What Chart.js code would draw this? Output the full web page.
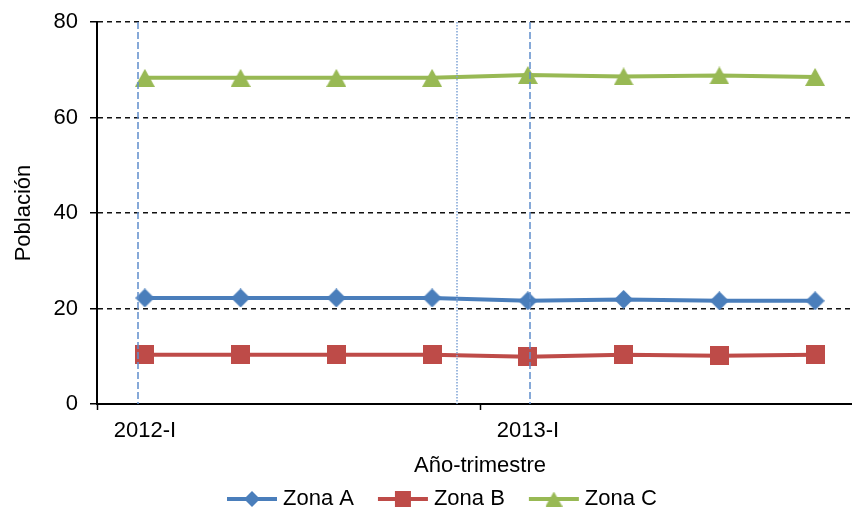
<!DOCTYPE html>
<html><head><meta charset="utf-8">
<script src="https://cdn.jsdelivr.net/npm/chart.js@4.4.1/dist/chart.umd.min.js"></script>
<style>html,body{margin:0;padding:0;overflow:hidden;background:#fff;width:852px;height:508px}canvas{display:block}</style>
</head><body>
<canvas id="c" width="884" height="520"></canvas>
<script>
// ---- data ----
const categories = ['2012-I','2012-II','2012-III','2012-IV','2013-I','2013-II','2013-III','2013-IV'];
const tickLabels = ['2012-I','','','','2013-I','','',''];
const zonaA = [22.2,22.2,22.2,22.2,21.6,21.9,21.6,21.6];
const zonaB = [10.3,10.3,10.3,10.3,9.9,10.3,10.1,10.3];
const zonaC = [68.3,68.3,68.3,68.3,68.9,68.6,68.8,68.5];
const seriesNames = ['Zona A','Zona B','Zona C'];
const yMin = 0, yMax = 80, yStep = 20;
const xTitle = 'Año-trimestre';
const yTitle = 'Población';
// vertical reference lines, in category-axis units
const dashedRefPositions = [-0.075, 4.02];
const dottedRefPositions = [3.26];

// ---- styles ----
const colors = ['#4A7EBB','#BE4B48','#98B954'];
const shapes = ['diamond','square','triangle'];
const FONT = 'Liberation Sans, Arial, sans-serif';

function makeMarker(shape, color, w, h) {
  const c = document.createElement('canvas');
  c.width = w; c.height = h;
  const g = c.getContext('2d');
  g.fillStyle = color;
  g.beginPath();
  if (shape === 'diamond') { g.moveTo(w/2,0); g.lineTo(w,h/2); g.lineTo(w/2,h); g.lineTo(0,h/2); }
  else if (shape === 'square') { g.rect(0,0,w,h); }
  else { g.moveTo(w/2,0); g.lineTo(w,h); g.lineTo(0,h); }
  g.closePath(); g.fill();
  return c;
}
function makeLegendSample(shape, color, mw, mh) {
  const c = document.createElement('canvas');
  c.width = 78; c.height = 22;
  const g = c.getContext('2d');
  g.strokeStyle = color; g.lineWidth = 4;
  g.beginPath(); g.moveTo(27,11); g.lineTo(77,11); g.stroke();
  g.drawImage(makeMarker(shape,color,mw,mh), 52 - mw/2, 11 - mh/2);
  return c;
}
const markerSizes = [[19,19],[19,19],[20,18]];
const legendSizes = [[16,16],[16,16],[17,15]];
const markers = shapes.map((s,i)=>makeMarker(s, colors[i], markerSizes[i][0], markerSizes[i][1]));
const legendSamples = shapes.map((s,i)=>makeLegendSample(s, colors[i], legendSizes[i][0], legendSizes[i][1]));

const refLinesPlugin = {
  id: 'refLines',
  afterDatasetsDraw(chart) {
    const ctx = chart.ctx, xs = chart.scales.x, a = chart.chartArea;
    ctx.save();
    ctx.lineWidth = 1.5;
    ctx.strokeStyle = '#5F8DCB';
    ctx.setLineDash([7,3]);
    dashedRefPositions.forEach(v => {
      const px = Math.round(xs.getPixelForValue(v));
      ctx.beginPath(); ctx.moveTo(px, a.top); ctx.lineTo(px, a.bottom); ctx.stroke();
    });
    ctx.strokeStyle = '#7EA3D5';
    ctx.setLineDash([1.5,1.5]);
    dottedRefPositions.forEach(v => {
      const px = Math.round(xs.getPixelForValue(v));
      ctx.beginPath(); ctx.moveTo(px, a.top); ctx.lineTo(px, a.bottom); ctx.stroke();
    });
    ctx.restore();
  }
};

const seriesData = [zonaA, zonaB, zonaC];
new Chart(document.getElementById('c'), {
  type: 'line',
  data: {
    labels: categories,
    datasets: seriesData.map((d,i)=>({
      label: seriesNames[i], data: d,
      borderColor: colors[i], backgroundColor: colors[i],
      borderWidth: 4, tension: 0,
      pointStyle: markers[i], pointRadius: 9, pointHoverRadius: 9
    }))
  },
  options: {
    responsive: false, animation: false,
    devicePixelRatio: 1,
    layout: { padding: { top: 22, right: 21, left: 0, bottom: 0 } },
    plugins: {
      tooltip: { enabled: false },
      legend: {
        position: 'bottom',
        labels: {
          usePointStyle: true, pointStyleWidth: 66, padding: 3,
          color: '#000', font: { size: 22, family: FONT },
          generateLabels: chart => chart.data.datasets.map((ds,i)=>({
            text: ds.label, pointStyle: legendSamples[i], fillStyle: colors[i],
            strokeStyle: colors[i], lineWidth: 0, hidden: false, datasetIndex: i, fontColor: '#000'
          }))
        }
      }
    },
    scales: {
      x: {
        offset: true,
        afterFit: s => { s.height = 81; },
        border: { display: true, color: '#000', width: 2 },
        grid: {
          offset: true, drawOnChartArea: false, drawTicks: true, tickLength: 6,
          tickColor: c => (c.index % 4 === 0 ? '#000' : 'rgba(0,0,0,0)'), tickWidth: 1.5
        },
        ticks: {
          autoSkip: false, maxRotation: 0, padding: 8, color: '#000',
          font: { size: 22, family: FONT },
          callback: (v, i) => tickLabels[i]
        },
        title: { display: true, text: xTitle, color: '#000', font: { size: 22, family: FONT }, padding: { top: 0, bottom: 6 } }
      },
      y: {
        min: yMin, max: yMax,
        afterFit: s => { s.width = 97; s.paddingTop = 0; s.paddingBottom = 0; },
        border: { display: true, color: '#000', width: 2, dash: [5,4] },
        grid: {
          color: c => (c.tick && c.tick.value === 0 ? 'rgba(0,0,0,0)' : '#111'),
          lineWidth: 1.5, tickBorderDash: [], tickColor: '#000', tickLength: 7, tickWidth: 1.5
        },
        ticks: { stepSize: yStep, padding: 12, color: '#000', font: { size: 22, family: FONT } },
        title: { display: true, text: yTitle, color: '#000', font: { size: 22, family: FONT }, padding: { top: 11, bottom: 0 } }
      }
    }
  },
  plugins: [refLinesPlugin]
});
</script>
</body></html>
